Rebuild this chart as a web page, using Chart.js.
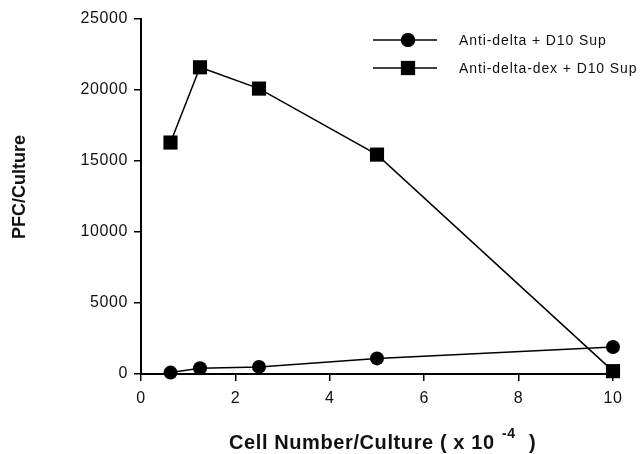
<!DOCTYPE html>
<html>
<head>
<meta charset="utf-8">
<script src="https://cdn.jsdelivr.net/npm/chart.js@4"></script>
<style>
  html, body { margin: 0; padding: 0; background: #fff; }
  #wrap { width: 641px; height: 454px; }
</style>
</head>
<body>
<div id="wrap"><canvas id="pfcChart" width="641" height="454"></canvas></div>
<script>
// values
const cellNumber = [0.625, 1.25, 2.5, 5, 10];          // x 10^-4
const antiDelta = [100, 400, 500, 1100, 1900];
const antiDeltaDex = [16300, 21600, 20100, 15450, 200];
const xTicks = [0, 2, 4, 6, 8, 10];
const yTicks = [0, 5000, 10000, 15000, 20000, 25000];
const seriesNames = ['Anti-delta + D10 Sup', 'Anti-delta-dex + D10 Sup'];

const toPoints = (xs, ys) => xs.map((x, i) => ({ x: x, y: ys[i] }));

const FONT = '"Liberation Sans", Arial, sans-serif';

// wider letter spacing for the tick labels
const spacing = {
  id: 'spacing',
  beforeDraw(chart) { chart.ctx.letterSpacing = '0.6px'; }
};

// titles + legend drawn by hand (superscript in x title, legend with line through marker)
const extras = {
  id: 'extras',
  afterDraw(chart) {
    const ctx = chart.ctx;
    ctx.save();
    ctx.fillStyle = '#111';

    // y title
    ctx.font = 'bold 18px ' + FONT;
    ctx.letterSpacing = '0px';
    ctx.translate(20, 187);
    ctx.rotate(-Math.PI / 2);
    ctx.textAlign = 'center';
    ctx.textBaseline = 'middle';
    ctx.fillText('PFC/Culture', 0, 0);
    ctx.setTransform(1, 0, 0, 1, 0, 0);

    // x title
    ctx.textAlign = 'left';
    ctx.textBaseline = 'alphabetic';
    ctx.font = 'bold 20px ' + FONT;
    ctx.letterSpacing = '0.6px';
    ctx.fillText('Cell Number/Culture ( x 10', 229, 449);
    ctx.font = 'bold 14px ' + FONT;
    ctx.fillText('-4', 502, 438);
    ctx.font = 'bold 20px ' + FONT;
    ctx.fillText(')', 529, 449);

    // legend
    ctx.letterSpacing = '0.9px';
    ctx.font = '14px ' + FONT;
    ctx.textBaseline = 'middle';
    const rows = [40, 68];
    chart.data.datasets.forEach((ds, i) => {
      const y = rows[i];
      ctx.strokeStyle = '#000';
      ctx.lineWidth = 1.5;
      ctx.beginPath();
      ctx.moveTo(373, y);
      ctx.lineTo(437, y);
      ctx.stroke();
      ctx.fillStyle = '#000';
      Chart.helpers.drawPoint(ctx, {
        pointStyle: ds.pointStyle, radius: ds.pointRadius, borderWidth: 0
      }, 408, y);
      ctx.fill();
      ctx.fillStyle = '#111';
      ctx.fillText(ds.label, 459, y + 1);
    });
    ctx.restore();
  }
};

new Chart(document.getElementById('pfcChart'), {
  type: 'scatter',
  data: {
    datasets: [
      {
        label: seriesNames[0],
        data: toPoints(cellNumber, antiDelta),
        showLine: true,
        borderColor: '#000',
        backgroundColor: '#000',
        borderWidth: 1.5,
        pointStyle: 'circle',
        pointRadius: 7,
        pointBorderWidth: 0,
        clip: false
      },
      {
        label: seriesNames[1],
        data: toPoints(cellNumber, antiDeltaDex),
        showLine: true,
        borderColor: '#000',
        backgroundColor: '#000',
        borderWidth: 1.5,
        pointStyle: 'rect',
        pointRadius: 10,
        pointBorderWidth: 0,
        clip: false
      }
    ]
  },
  options: {
    responsive: false,
    animation: false,
    layout: { padding: { top: 19, right: 28, left: 0, bottom: 0 } },
    plugins: {
      legend: { display: false },
      tooltip: { enabled: false }
    },
    scales: {
      x: {
        type: 'linear',
        min: 0,
        max: 10,
        afterFit: (scale) => { scale.height = 80; },
        afterBuildTicks: (scale) => { scale.ticks = xTicks.map(v => ({ value: v })); },
        grid: { drawOnChartArea: false, drawTicks: true, tickLength: 7, color: '#000', lineWidth: 1.5 },
        border: { display: true, color: '#000', width: 2 },
        ticks: {
          color: '#111',
          padding: 8,
          callback: (v) => String(v),
          font: { family: FONT, size: 16 }
        }
      },
      y: {
        type: 'linear',
        min: 0,
        max: 25000,
        afterFit: (scale) => { scale.width = 141; },
        afterBuildTicks: (scale) => { scale.ticks = yTicks.map(v => ({ value: v })); },
        grid: { drawOnChartArea: false, drawTicks: true, tickLength: 7, color: '#000', lineWidth: 1.5 },
        border: { display: true, color: '#000', width: 2 },
        ticks: {
          color: '#111',
          padding: 6,
          callback: (v) => String(v),
          font: { family: FONT, size: 16 }
        }
      }
    }
  },
  plugins: [spacing, extras]
});
</script>
</body>
</html>
